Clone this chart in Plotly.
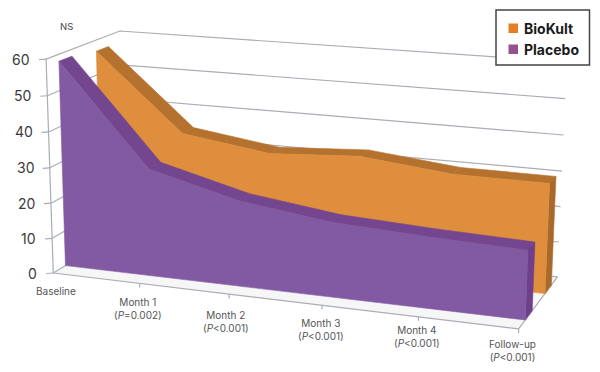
import plotly.graph_objects as go

categories = ["Baseline", "Month 1", "Month 2", "Month 3", "Month 4", "Follow-up"]
p_labels = ["", "(<i>P</i>=0.002)", "(<i>P</i>&lt;0.001)", "(<i>P</i>&lt;0.001)", "(<i>P</i>&lt;0.001)", "(<i>P</i>&lt;0.001)"]
biokult = [56.8, 35.1, 31.6, 33.1, 30.5, 30.4]
placebo = [58.1, 30.3, 23.9, 20.6, 19.4, 18.6]
y_ticks = [0, 10, 20, 30, 40, 50, 60]

COL_BIO = ("#DE8E3C", "#B5722F", "#A9692A")
COL_PLA = ("#825AA3", "#74468F", "#6F3F8C")
LEG_BIO = "#E57F25"
LEG_PLA = "#94508F"
GRID = "#A8AEB5"
FONT = "Inter"

# the page has an 8px body margin, so the figure covers page pixels 8..600 / 8..372
PAGE_W, PAGE_H, BODY = 600, 372, 8

# perspective camera: vanishing points of the three chart directions
ORIGIN = (53.3, 273.0)
VX, VD, VZ = (-4739.0, -303.0), (989.0, -300.0), (275.0, 6836.0)
PX, PD, PZ = -0.0177, 0.0822, -0.000526


def project(x, d, z):
    u, v, w = PX * x, PD * d, PZ * z
    den = 1 + u + v + w
    return (
        (ORIGIN[0] + u * VX[0] + v * VD[0] + w * VZ[0]) / den,
        (ORIGIN[1] + u * VX[1] + v * VD[1] + w * VZ[1]) / den,
    )


fig = go.Figure()


def poly(pts, color):
    fig.add_trace(go.Scatter(
        x=[p[0] for p in pts] + [pts[0][0]], y=[p[1] for p in pts] + [pts[0][1]],
        mode="lines", fill="toself", fillcolor=color, line=dict(width=0.6, color=color),
        hoverinfo="skip", showlegend=False))


def line(pts, color=GRID, width=1.2):
    fig.add_trace(go.Scatter(
        x=[p[0] for p in pts], y=[p[1] for p in pts], mode="lines",
        line=dict(color=color, width=width), hoverinfo="skip", showlegend=False))


n = len(categories) - 1
poly([project(0, 0, 0), project(n, 0, 0), project(n, 1, 0), project(0, 1, 0)], "#F6F6F6")
for t in y_ticks:
    line([project(0, 0, t), project(0, 1, t), project(n, 1, t)])
line([project(0, 0, 0), project(0, 0, max(y_ticks))])
line([project(0, 0, 0), project(n, 0, 0), project(n, 1, 0)])
for t in y_ticks:
    a = project(0, 0, t)
    line([(a[0] - 7, a[1] + 0.5), a])
for i in range(1, n + 1):
    a = project(i, 0, 0)
    line([a, (a[0], a[1] + 4)])


def area(values, d0, d1, cols):
    front, top, side = cols
    for i in range(n):
        poly([project(i, d0, values[i]), project(i + 1, d0, values[i + 1]),
              project(i + 1, d1, values[i + 1]), project(i, d1, values[i])], top)
    poly([project(n, d0, 0), project(n, d1, 0), project(n, d1, values[n]), project(n, d0, values[n])], side)
    poly([project(0, d0, 0)] + [project(i, d0, values[i]) for i in range(n + 1)] + [project(n, d0, 0)], front)


area(biokult, 0.66, 0.83, COL_BIO)
area(placebo, 0.16, 0.33, COL_PLA)

ann = []
for t in y_ticks:
    a = project(0, 0, t)
    ann.append(dict(x=a[0], y=a[1], text=str(t), xanchor="right", yanchor="middle", xshift=-14, showarrow=False,
                    font=dict(family=FONT, size=14, color="#3A3A3A")))
label_dx = [3, -2, -3, -1, -1, -6]
label_dy = [18, 25, 27, 24, 20, 22]
for i, c in enumerate(categories):
    a = project(i, 0, 0)
    txt = c if not p_labels[i] else c + "<br>" + p_labels[i]
    ann.append(dict(x=a[0], y=a[1], text=txt, xanchor="center", yanchor="middle", xshift=label_dx[i], yshift=-label_dy[i],
                    showarrow=False, align="center", font=dict(family=FONT, size=10, color="#555555")))
ann.append(dict(x=66, y=26, text="NS", showarrow=False, font=dict(family=FONT, size=9.5, color="#444444")))
ann.append(dict(x=522, y=28, text="<b>BioKult</b>", xanchor="left", showarrow=False,
                font=dict(family=FONT, size=14, color="#1A1A1A")))
ann.append(dict(x=522, y=49, text="<b>Placebo</b>", xanchor="left", showarrow=False,
                font=dict(family=FONT, size=14, color="#1A1A1A")))

shapes = [
    dict(type="rect", x0=496, x1=589.5, y0=10, y1=65, fillcolor="white", line=dict(color="#444444", width=1.5)),
    dict(type="rect", x0=508.5, x1=518, y0=23.5, y1=33, fillcolor=LEG_BIO, line=dict(width=0)),
    dict(type="rect", x0=508.5, x1=518, y0=44.5, y1=54, fillcolor=LEG_PLA, line=dict(width=0)),
]

fig.update_layout(
    width=PAGE_W - BODY, height=PAGE_H - BODY, margin=dict(l=0, r=0, t=0, b=0),
    paper_bgcolor="white", plot_bgcolor="white", showlegend=False,
    xaxis=dict(range=[BODY, PAGE_W], visible=False, fixedrange=True),
    yaxis=dict(range=[PAGE_H, BODY], visible=False, fixedrange=True),
    annotations=ann, shapes=shapes,
)
fig.write_html("out.html")
